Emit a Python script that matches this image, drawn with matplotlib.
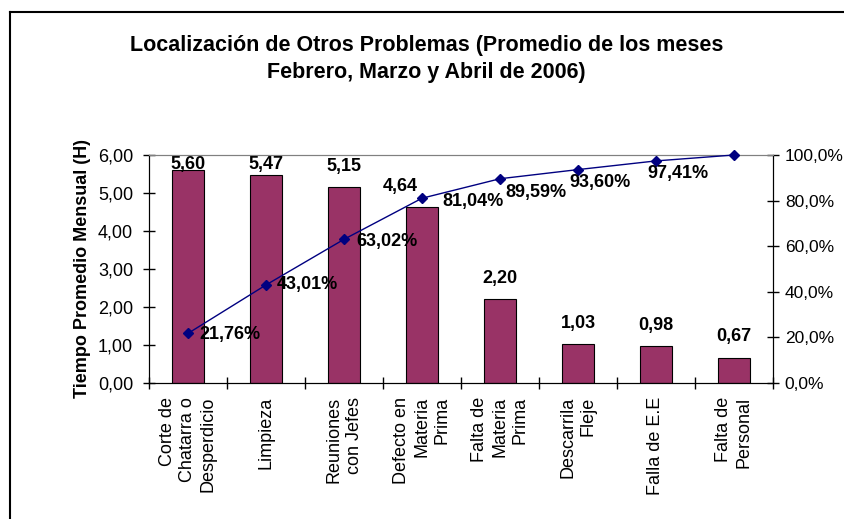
from matplotlib import pyplot as plt
from matplotlib.lines import Line2D
from matplotlib.ticker import FuncFormatter
import numpy as np

plt.rcParams["font.family"] = ["Liberation Sans", "DejaVu Sans"]

categories = [
    "Corte de\nChatarra o\nDesperdicio",
    "Limpieza",
    "Reuniones\ncon Jefes",
    "Defecto en\nMateria\nPrima",
    "Falta de\nMateria\nPrima",
    "Descarrila\nFleje",
    "Falla de E.E",
    "Falta de\nPersonal",
]
hours = [5.60, 5.47, 5.15, 4.64, 2.20, 1.03, 0.98, 0.67]
cumulative = [21.76, 43.01, 63.02, 81.04, 89.59, 93.60, 97.41, 100.0]
pct_labels = ["21,76%", "43,01%", "63,02%", "81,04%", "89,59%", "93,60%", "97,41%", ""]

FS = 13


def comma(v, fmt):
    return (fmt % v).replace(".", ",")


fig = plt.figure(figsize=(8.45, 5.19), dpi=100)
ax = fig.add_axes([149 / 845, 1 - 383 / 519, 624 / 845, 228 / 519])
ax2 = ax.twinx()

x = np.arange(len(categories))
ax.bar(x, hours, width=0.4, color="#993366", edgecolor="black", linewidth=0.8, zorder=2)
ax.set_xlim(-0.5, len(categories) - 0.5)
ax.set_ylim(0, 6)
ax.set_yticks(np.arange(0, 6.01, 1))
ax.yaxis.set_major_formatter(FuncFormatter(lambda v, p: comma(v, "%.2f")))
ax.set_ylabel("Tiempo Promedio Mensual (H)", fontsize=FS, fontweight="bold", labelpad=5)

ax.set_xticks(np.arange(-0.5, len(categories), 1))
ax.set_xticklabels([])
ax.tick_params(axis="x", direction="inout", length=9, width=1)
ax.tick_params(axis="y", direction="inout", length=9, width=1, labelsize=FS, pad=7)
for xi, name in zip(x, categories):
    ax.annotate(name, (xi, 0), xycoords="data", xytext=(0, -14), textcoords="offset pixels",
                rotation=90, ha="center", va="top", multialignment="right",
                fontsize=FS, linespacing=1.25)

# bar value labels (Excel nudged some of them)
bar_shift = [0, 0, 0, -22, 0, 0, 0, 0]
for xi, v, sx in zip(x, hours, bar_shift):
    yb = min(v + 0.32, 5.52)
    ax.annotate(comma(v, "%.2f"), (xi, yb), xytext=(sx, 0), textcoords="offset pixels",
                ha="center", va="bottom", fontsize=FS, fontweight="bold")

ax2.plot(x, cumulative, color="#000080", lw=1, marker="D", markersize=5, zorder=3, clip_on=False)
ax2.set_ylim(0, 100)
ax2.set_yticks(np.arange(0, 101, 20))
ax2.yaxis.set_major_formatter(FuncFormatter(lambda v, p: comma(v, "%.1f") + "%"))
ax2.tick_params(axis="y", direction="inout", length=9, width=1, labelsize=12.5, pad=4)

pct_offsets = [(11, -1), (11, 0), (12, -2), (20, -3), (5, -14), (-9, -13), (-9, -13), (0, 0)]
for xi, v, lab, (dx, dy) in zip(x, cumulative, pct_labels, pct_offsets):
    if lab:
        ax2.annotate(lab, (xi, v), xytext=(dx, dy), textcoords="offset pixels",
                     ha="left", va="center", fontsize=FS, fontweight="bold")

for a in (ax, ax2):
    a.spines["top"].set_color("#808080")
    a.set_facecolor("none")
ax.set_zorder(ax2.get_zorder() - 1)
ax2.patch.set_visible(False)

fig.text(0.505, 1 - 59 / 519, "Localización de Otros Problemas (Promedio de los meses\nFebrero, Marzo y Abril de 2006)",
         ha="center", va="center", fontsize=15.5, fontweight="bold", linespacing=1.35)

# chart-area frame (only top and left edges fall inside the picture)
fig.add_artist(Line2D([10 / 845, 10 / 845], [0, 1 - 12 / 519], color="black", lw=1.5))
fig.add_artist(Line2D([10 / 845, 1], [1 - 12 / 519, 1 - 12 / 519], color="black", lw=1.5))

fig.savefig("out.png", dpi=100)
